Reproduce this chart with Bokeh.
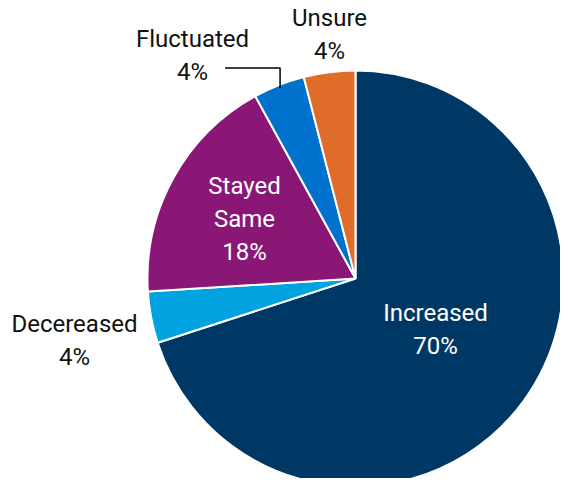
import math
from bokeh.plotting import figure
from bokeh.models import ColumnDataSource, Range1d
from bokeh.core.properties import value
from bokeh.embed import file_html
from bokeh.resources import INLINE

# ---- data ----
categories = ["Increased", "Decereased", "Stayed Same", "Fluctuated", "Unsure"]
percents = [70, 4, 18, 4, 4]
colors = ["#003865", "#00a3e0", "#8a1776", "#0072ce", "#e06c2a"]
text_colors = ["white", "#111111", "white", "#111111", "#111111"]

# ---- layout ----
W, H = 560, 478
CX, CY, R = 355, H - 278, 208
# label block centre offsets from pie centre (pixels, x right, y down)
label_offsets = [(80, 50.5), (-281, 61.5), (-111, -59.5), (-163, -223), (-26, -244.5)]
wrap = [["Increased"], ["Decereased"], ["Stayed", "Same"], ["Fluctuated"], ["Unsure"]]
LINE = 33
FONT = "Roboto"
FONT_SIZE = "24px"

total = sum(percents)
starts, ends = [], []
cum = 0
for v in percents:
    starts.append(math.pi / 2 - 2 * math.pi * cum / total)
    cum += v
    ends.append(math.pi / 2 - 2 * math.pi * cum / total)

src = ColumnDataSource(dict(
    x=[CX] * len(percents), y=[CY] * len(percents),
    start=starts, end=ends, color=colors,
))

p = figure(width=W, height=H, output_backend="svg", toolbar_location=None,
           x_range=Range1d(0, W), y_range=Range1d(0, H), min_border=0)
p.axis.visible = False
p.grid.visible = False
p.outline_line_color = None

p.wedge(x="x", y="y", radius=R, start_angle="start", end_angle="end",
        direction="clock", fill_color="color", line_color="white",
        line_width=2, source=src)

xs, ys, texts, tcols = [], [], [], []
for (dx, dy), lines, v, tc in zip(label_offsets, wrap, percents, text_colors):
    all_lines = lines + [f"{v}%"]
    n = len(all_lines)
    for k, t in enumerate(all_lines):
        xs.append(CX + dx)
        ys.append(CY - dy - (k - (n - 1) / 2) * LINE)
        texts.append(t)
        tcols.append(tc)

lsrc = ColumnDataSource(dict(x=xs, y=ys, text=texts, color=tcols))
p.text(x="x", y="y", text="text", text_color="color", source=lsrc,
       text_font=value(FONT), text_font_size=FONT_SIZE,
       text_align="center", text_baseline="middle")

# leader line for Fluctuated
i = 3
mid = (starts[i] + ends[i]) / 2
px = CX + 0.985 * R * math.cos(mid)
py = CY + 0.985 * R * math.sin(mid)
p.line(x=[px, px, px - 55], y=[py, py + 20, py + 20], line_color="black", line_width=1.5)

open("out.html", "w").write(file_html(p, INLINE))
